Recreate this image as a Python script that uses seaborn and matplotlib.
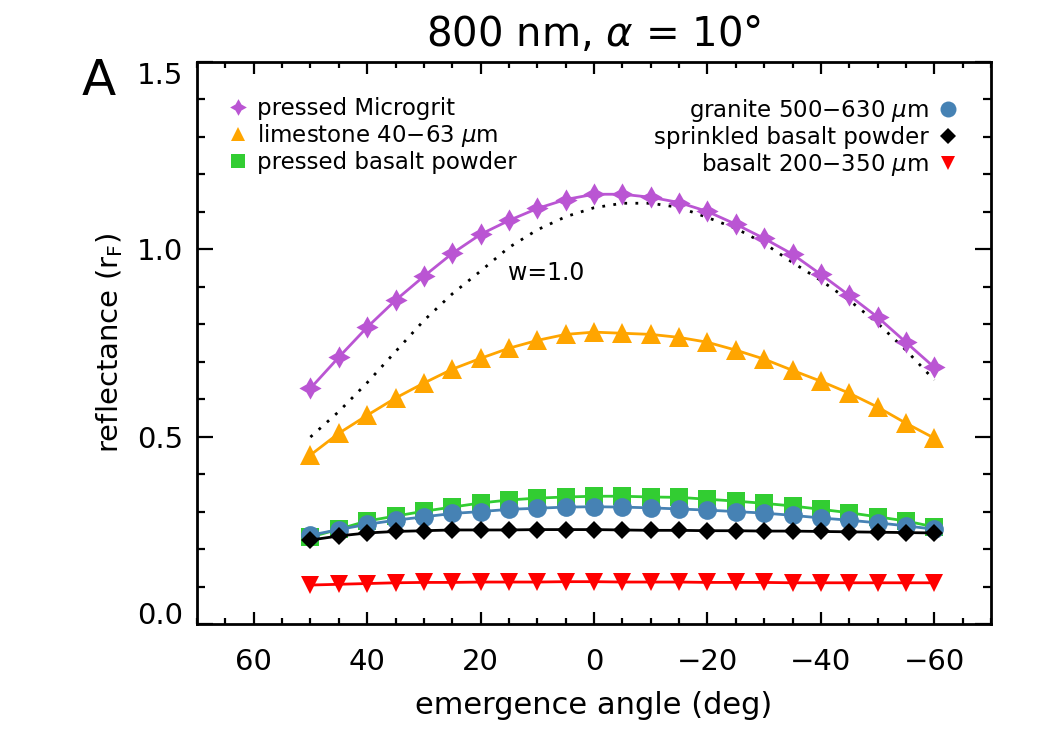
import numpy as np
import pandas as pd
import matplotlib
matplotlib.use("Agg")
import matplotlib.pyplot as plt
from matplotlib.lines import Line2D
from matplotlib.ticker import MultipleLocator, FixedLocator
import seaborn as sns

# ---------------- data ----------------
angles = [50, 45, 40, 35, 30, 25, 20, 15, 10, 5, 0, -5, -10, -15, -20, -25,
          -30, -35, -40, -45, -50, -55, -60]

microgrit = [0.629, 0.712, 0.792, 0.864, 0.928, 0.989, 1.040, 1.077, 1.109, 1.133,
             1.147, 1.147, 1.139, 1.125, 1.101, 1.067, 1.029, 0.987, 0.933, 0.877,
             0.819, 0.752, 0.685]
limestone = [0.451, 0.509, 0.557, 0.603, 0.643, 0.680, 0.709, 0.736, 0.757, 0.773,
             0.779, 0.776, 0.773, 0.765, 0.752, 0.731, 0.707, 0.677, 0.648, 0.616,
             0.579, 0.536, 0.496]
pressed_basalt = [0.232, 0.253, 0.275, 0.288, 0.301, 0.312, 0.323, 0.331, 0.336, 0.339,
                  0.341, 0.341, 0.339, 0.338, 0.333, 0.328, 0.322, 0.315, 0.306, 0.297,
                  0.286, 0.275, 0.259]
granite = [0.237, 0.252, 0.266, 0.277, 0.286, 0.295, 0.300, 0.306, 0.309, 0.312,
           0.313, 0.312, 0.310, 0.307, 0.304, 0.300, 0.296, 0.290, 0.283, 0.277,
           0.270, 0.262, 0.253]
sprinkled = [0.224, 0.235, 0.243, 0.247, 0.249, 0.251, 0.251, 0.251, 0.252, 0.252,
             0.252, 0.251, 0.250, 0.250, 0.249, 0.249, 0.248, 0.248, 0.247, 0.246,
             0.245, 0.244, 0.243]
basalt_coarse = [0.104, 0.106, 0.108, 0.110, 0.111, 0.111, 0.112, 0.112, 0.112, 0.113,
                 0.113, 0.112, 0.112, 0.112, 0.111, 0.111, 0.111, 0.110, 0.110, 0.110,
                 0.110, 0.110, 0.110]
model_w1 = [0.499, 0.567, 0.644, 0.727, 0.810, 0.881, 0.942, 1.005, 1.052, 1.087,
            1.111, 1.123, 1.123, 1.112, 1.085, 1.056, 1.016, 0.965, 0.917, 0.864,
            0.803, 0.731, 0.651]

x_ticks = [60, 40, 20, 0, -20, -40, -60]
x_ticklabels = ["60", "40", "20", "0", "\u221220", "\u221240", "\u221260"]
y_ticks = [0.0, 0.5, 1.0, 1.5]
y_ticklabels = ["0.0", "0.5", "1.0", "1.5"]

left_names = ["pressed Microgrit", "limestone 40\u221263 $\\mu$m", "pressed basalt powder"]
right_names = ["granite 500\u2212630 $\\mu$m", "sprinkled basalt powder", "basalt 200\u2212350 $\\mu$m"]

# ---------------- style ----------------
sns.set_theme(style="ticks")
plt.rcParams["font.family"] = ["DejaVu Sans"]
plt.rcParams["mathtext.fontset"] = "dejavusans"
plt.rcParams["text.color"] = "black"
plt.rcParams["axes.labelcolor"] = "black"
plt.rcParams["xtick.color"] = "black"
plt.rcParams["ytick.color"] = "black"
plt.rcParams["xtick.labelcolor"] = "black"
plt.rcParams["ytick.labelcolor"] = "black"

star4 = [(0, 1), (0.36, 0.36), (1, 0), (0.36, -0.36), (0, -1), (-0.36, -0.36),
         (-1, 0), (-0.36, 0.36), (0, 1)]

C_PURPLE = "#ba55d3"
C_ORANGE = "#ffa500"
C_GREEN = "#32cd32"
C_BLUE = "#4682b4"
C_BLACK = "#000000"
C_RED = "#ff0000"

fig = plt.figure(figsize=(10.5, 7.5), dpi=100)
ax = fig.add_axes([197 / 1050, 1 - 624 / 750, 794 / 1050, 562 / 750])

lw = 2.0
series = [
    (microgrit, C_PURPLE, star4, 16),
    (limestone, C_ORANGE, "^", 14),
    (pressed_basalt, C_GREEN, "s", 12.5),
    (granite, C_BLUE, "o", 13.5),
    (sprinkled, C_BLACK, "D", 9.5),
    (basalt_coarse, C_RED, "v", 12.5),
]

# model curve (dotted)
sns.lineplot(x=angles, y=model_w1, ax=ax, color="black", linewidth=2.0,
             linestyle=(0, (1, 3)), sort=False, legend=False)

for vals, col, mk, ms in series:
    sns.lineplot(x=angles, y=vals, ax=ax, color=col, linewidth=lw, marker=mk,
                 markersize=ms, markeredgewidth=0, markeredgecolor=col,
                 sort=False, legend=False)

ax.text(8.5, 0.937, "w=1.0", fontsize=17, ha="center", va="center", color="black")

# ---------------- axes ----------------
ax.set_xlim(70, -70)
ax.set_ylim(0, 1.5)
ax.xaxis.set_major_locator(FixedLocator(x_ticks))
ax.set_xticklabels(x_ticklabels)
ax.xaxis.set_minor_locator(MultipleLocator(5))
ax.yaxis.set_major_locator(FixedLocator(y_ticks))
ax.set_yticklabels(y_ticklabels)
ax.yaxis.set_minor_locator(MultipleLocator(0.1))

for s in ax.spines.values():
    s.set_linewidth(2.0)
    s.set_color("black")

ax.tick_params(axis="both", which="both", direction="in", top=True, right=True,
               color="black", width=1.6, labelcolor="black")
ax.tick_params(axis="x", which="major", length=8.6, pad=17, labelsize=21)
ax.tick_params(axis="x", which="minor", length=4.0)
ax.tick_params(axis="y", which="major", length=11.5, pad=10, labelsize=21)
ax.tick_params(axis="y", which="minor", length=5.8)

ylabs = ax.get_yticklabels()
ylabs[0].set_va("baseline")
ylabs[-1].set_va("top")

ax.set_xlabel("emergence angle (deg)", fontsize=22, color="black")
ax.xaxis.set_label_coords(0.5, (624 - 705) / 562)
ax.xaxis.label.set_va("center")
ax.set_ylabel("reflectance (r$_\\mathregular{F}$)", fontsize=21, color="black")
ax.yaxis.set_label_coords((110 - 197) / 794, 0.5)
ax.yaxis.label.set_va("center")

ax.text(0.5, (624 - 35) / 562, "800 nm, $\\alpha$ = 10\u00b0", transform=ax.transAxes,
        fontsize=29, ha="center", va="center", color="black")
fig.text(99 / 1050, 1 - 81 / 750, "A", fontsize=36, ha="center", va="center", color="black")

# ---------------- legends ----------------
def handle(col, mk, ms):
    return Line2D([], [], linestyle="none", marker=mk, markersize=ms,
                  markerfacecolor=col, markeredgewidth=0, color=col)

lh = [handle(C_PURPLE, star4, 12), handle(C_ORANGE, "^", 10.5), handle(C_GREEN, "s", 9.5)]
rh = [handle(C_BLUE, "o", 11.5), handle(C_BLACK, "D", 8), handle(C_RED, "v", 10.5)]

leg_kw = dict(frameon=False, fontsize=16.5, handlelength=1.0, handletextpad=0.3,
              labelspacing=0.08, borderpad=0, borderaxespad=0, numpoints=1)
leg1 = ax.legend(lh, left_names, loc="upper left",
                 bbox_to_anchor=((227 - 197) / 794, (624 - 97) / 562), **leg_kw)
for t in leg1.get_texts():
    t.set_color("black")
ax.add_artist(leg1)
leg2 = ax.legend(rh, right_names, loc="upper right", markerfirst=False,
                 bbox_to_anchor=((959 - 197) / 794, (624 - 97) / 562), **leg_kw)
for t in leg2.get_texts():
    t.set_color("black")

fig.savefig("out.png", dpi=100)
